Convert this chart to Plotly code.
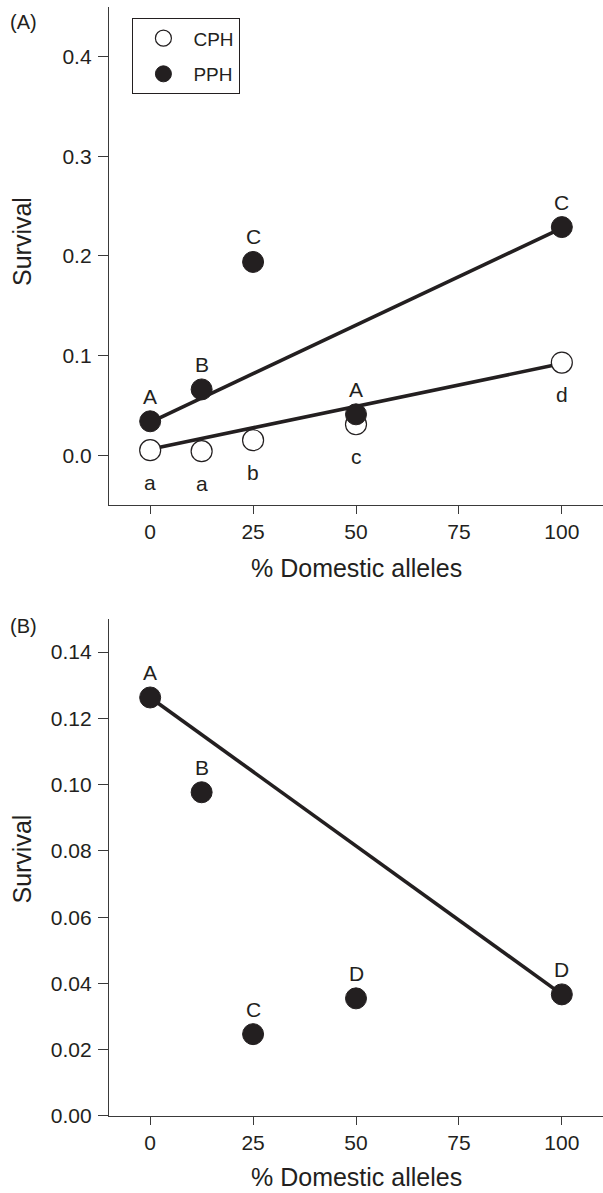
import plotly.graph_objects as go

# ---------------- data ----------------
alleles = [0, 12.5, 25, 50, 100]

# Panel A
cph_survival = [0.005, 0.004, 0.015, 0.031, 0.093]
pph_survival_a = [0.034, 0.066, 0.194, 0.041, 0.229]
cph_letters = ["a", "a", "b", "c", "d"]
pph_letters_a = ["A", "B", "C", "A", "C"]
fit_x = [0, 100]
cph_fit = [0.006, 0.092]
pph_fit_a = [0.033, 0.228]

# Panel B
pph_survival_b = [0.1263, 0.0977, 0.0247, 0.0355, 0.0367]
pph_letters_b = ["A", "B", "C", "D", "D"]
pph_fit_b = [0.1263, 0.0367]

x_ticks = [0, 25, 50, 75, 100]
ya_ticks = [0.0, 0.1, 0.2, 0.3, 0.4]
yb_ticks = [0.00, 0.02, 0.04, 0.06, 0.08, 0.10, 0.12, 0.14]

# ---------------- style ----------------
INK = "#231f20"
AXC = "#3a3a3a"
FONT = "Liberation Sans, Arial, Helvetica, sans-serif"
MS = 21

fig = go.Figure()

# Panel A fits
fig.add_trace(go.Scatter(x=fit_x, y=pph_fit_a, mode="lines", line=dict(color=INK, width=3.6),
                         showlegend=False, xaxis="x", yaxis="y", hoverinfo="skip"))
fig.add_trace(go.Scatter(x=fit_x, y=cph_fit, mode="lines", line=dict(color=INK, width=3.6),
                         showlegend=False, xaxis="x", yaxis="y", hoverinfo="skip"))
# Panel A points
fig.add_trace(go.Scatter(x=alleles, y=cph_survival, mode="markers", name="CPH",
                         marker=dict(size=MS, color="white", line=dict(color=INK, width=1.2)),
                         xaxis="x", yaxis="y", legendgroup="c"))
fig.add_trace(go.Scatter(x=alleles, y=pph_survival_a, mode="markers", name="PPH",
                         marker=dict(size=MS, color=INK, line=dict(color=INK, width=1)),
                         xaxis="x", yaxis="y", legendgroup="p"))

# Panel B
fig.add_trace(go.Scatter(x=fit_x, y=pph_fit_b, mode="lines", line=dict(color=INK, width=3.6),
                         showlegend=False, xaxis="x2", yaxis="y2", hoverinfo="skip"))
fig.add_trace(go.Scatter(x=alleles, y=pph_survival_b, mode="markers", name="PPH",
                         marker=dict(size=MS, color=INK, line=dict(color=INK, width=1)),
                         showlegend=False, xaxis="x2", yaxis="y2"))

annotations = []
lf = dict(family=FONT, size=21, color=INK)
for x, y, t in zip(alleles, cph_survival, cph_letters):
    annotations.append(dict(x=x, y=y, xref="x", yref="y", text=t, showarrow=False,
                            yshift=-32, font=lf))
for x, y, t in zip(alleles, pph_survival_a, pph_letters_a):
    annotations.append(dict(x=x, y=y, xref="x", yref="y", text=t, showarrow=False,
                            yshift=25, font=lf))
for x, y, t in zip(alleles, pph_survival_b, pph_letters_b):
    annotations.append(dict(x=x, y=y, xref="x2", yref="y2", text=t, showarrow=False,
                            yshift=25, font=lf))

tf = dict(family=FONT, size=25, color=INK)
# panel labels
annotations.append(dict(x=-0.205, y=0.9865, xref="paper", yref="paper", text="(A)",
                        showarrow=False, xanchor="left", yanchor="middle",
                        font=dict(family=FONT, size=20, color=INK)))
annotations.append(dict(x=-0.205, y=0.4418, xref="paper", yref="paper", text="(B)",
                        showarrow=False, xanchor="left", yanchor="middle",
                        font=dict(family=FONT, size=20, color=INK)))
# y titles
annotations.append(dict(x=-0.176, y=0.5, xref="paper", yref="y domain", text="Survival",
                        showarrow=False, textangle=-90, xanchor="center", yanchor="middle",
                        yshift=14, font=tf))
annotations.append(dict(x=-0.176, y=0.5, xref="paper", yref="y2 domain", text="Survival",
                        showarrow=False, textangle=-90, xanchor="center", yanchor="middle",
                        yshift=8, font=tf))
# x titles
annotations.append(dict(x=0.5, y=0, xref="x domain", yref="y domain", text="% Domestic alleles",
                        showarrow=False, yshift=-63, xanchor="center", yanchor="middle", font=tf))
annotations.append(dict(x=0.5, y=0, xref="x2 domain", yref="y2 domain", text="% Domestic alleles",
                        showarrow=False, yshift=-61, xanchor="center", yanchor="middle", font=tf))

axis_common = dict(showline=True, linecolor=AXC, linewidth=1.3, ticks="outside",
                   tickwidth=1.2, tickcolor=AXC, showgrid=False, zeroline=False, mirror=False,
                   tickfont=dict(family=FONT, size=21, color=INK))

fig.update_layout(
    width=603, height=1193,
    margin=dict(l=109, r=0, t=7, b=77),
    paper_bgcolor="white", plot_bgcolor="white",
    font=dict(family=FONT, color=INK),
    xaxis=dict(domain=[0, 1], anchor="y", range=[-10, 110], tickvals=x_ticks,
               ticklen=8, ticklabelstandoff=0, **axis_common),
    yaxis=dict(domain=[0.551, 1.0], anchor="x", range=[-0.05, 0.45], tickvals=ya_ticks,
               tickformat=".1f", ticklen=10, ticklabelstandoff=2, **axis_common),
    xaxis2=dict(domain=[0, 1], anchor="y2", range=[-10, 110], tickvals=x_ticks,
                ticklen=8, ticklabelstandoff=0, **axis_common),
    yaxis2=dict(domain=[0, 0.4482], anchor="x2", range=[0, 0.15], tickvals=yb_ticks,
                tickformat=".2f", ticklen=10, ticklabelstandoff=2, **axis_common),
    legend=dict(x=0.047, y=0.990, xanchor="left", yanchor="top", bordercolor=INK,
                borderwidth=1.2, bgcolor="white", traceorder="grouped", tracegroupgap=8,
                itemwidth=50,
                font=dict(family=FONT, size=19, color=INK), itemsizing="trace"),
    annotations=annotations,
    showlegend=True,
)

fig.write_html("out.html", config={"displayModeBar": False},
               post_script="document.body.style.margin='0';document.body.style.overflow='hidden';")
